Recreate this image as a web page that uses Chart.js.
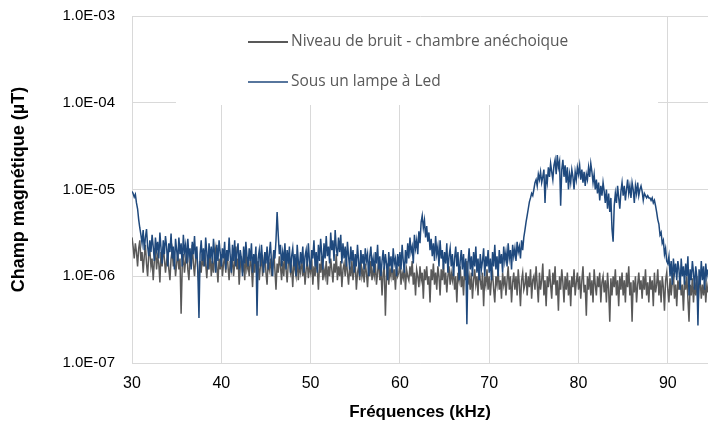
<!DOCTYPE html>
<html>
<head>
<meta charset="utf-8">
<script src="https://cdn.jsdelivr.net/npm/chart.js@4.4.1/dist/chart.umd.min.js"></script>
<style>
  html, body { margin: 0; padding: 0; background: #fff; }
  #wrap { width: 708px; height: 430px; }
</style>
</head>
<body>
<div id="wrap"><canvas id="fieldChart" width="708" height="430"></canvas></div>
<script>
// Frequencies (kHz), one row per kHz
const frequencies = [
  30, 30.125, 30.25, 30.375, 30.5, 30.625, 30.75, 30.875,
  31, 31.125, 31.25, 31.375, 31.5, 31.625, 31.75, 31.875,
  32, 32.125, 32.25, 32.375, 32.5, 32.625, 32.75, 32.875,
  33, 33.125, 33.25, 33.375, 33.5, 33.625, 33.75, 33.875,
  34, 34.125, 34.25, 34.375, 34.5, 34.625, 34.75, 34.875,
  35, 35.125, 35.25, 35.375, 35.5, 35.625, 35.75, 35.875,
  36, 36.125, 36.25, 36.375, 36.5, 36.625, 36.75, 36.875,
  37, 37.125, 37.25, 37.375, 37.5, 37.625, 37.75, 37.875,
  38, 38.125, 38.25, 38.375, 38.5, 38.625, 38.75, 38.875,
  39, 39.125, 39.25, 39.375, 39.5, 39.625, 39.75, 39.875,
  40, 40.125, 40.25, 40.375, 40.5, 40.625, 40.75, 40.875,
  41, 41.125, 41.25, 41.375, 41.5, 41.625, 41.75, 41.875,
  42, 42.125, 42.25, 42.375, 42.5, 42.625, 42.75, 42.875,
  43, 43.125, 43.25, 43.375, 43.5, 43.625, 43.75, 43.875,
  44, 44.125, 44.25, 44.375, 44.5, 44.625, 44.75, 44.875,
  45, 45.125, 45.25, 45.375, 45.5, 45.625, 45.75, 45.875,
  46, 46.125, 46.25, 46.375, 46.5, 46.625, 46.75, 46.875,
  47, 47.125, 47.25, 47.375, 47.5, 47.625, 47.75, 47.875,
  48, 48.125, 48.25, 48.375, 48.5, 48.625, 48.75, 48.875,
  49, 49.125, 49.25, 49.375, 49.5, 49.625, 49.75, 49.875,
  50, 50.125, 50.25, 50.375, 50.5, 50.625, 50.75, 50.875,
  51, 51.125, 51.25, 51.375, 51.5, 51.625, 51.75, 51.875,
  52, 52.125, 52.25, 52.375, 52.5, 52.625, 52.75, 52.875,
  53, 53.125, 53.25, 53.375, 53.5, 53.625, 53.75, 53.875,
  54, 54.125, 54.25, 54.375, 54.5, 54.625, 54.75, 54.875,
  55, 55.125, 55.25, 55.375, 55.5, 55.625, 55.75, 55.875,
  56, 56.125, 56.25, 56.375, 56.5, 56.625, 56.75, 56.875,
  57, 57.125, 57.25, 57.375, 57.5, 57.625, 57.75, 57.875,
  58, 58.125, 58.25, 58.375, 58.5, 58.625, 58.75, 58.875,
  59, 59.125, 59.25, 59.375, 59.5, 59.625, 59.75, 59.875,
  60, 60.125, 60.25, 60.375, 60.5, 60.625, 60.75, 60.875,
  61, 61.125, 61.25, 61.375, 61.5, 61.625, 61.75, 61.875,
  62, 62.125, 62.25, 62.375, 62.5, 62.625, 62.75, 62.875,
  63, 63.125, 63.25, 63.375, 63.5, 63.625, 63.75, 63.875,
  64, 64.125, 64.25, 64.375, 64.5, 64.625, 64.75, 64.875,
  65, 65.125, 65.25, 65.375, 65.5, 65.625, 65.75, 65.875,
  66, 66.125, 66.25, 66.375, 66.5, 66.625, 66.75, 66.875,
  67, 67.125, 67.25, 67.375, 67.5, 67.625, 67.75, 67.875,
  68, 68.125, 68.25, 68.375, 68.5, 68.625, 68.75, 68.875,
  69, 69.125, 69.25, 69.375, 69.5, 69.625, 69.75, 69.875,
  70, 70.125, 70.25, 70.375, 70.5, 70.625, 70.75, 70.875,
  71, 71.125, 71.25, 71.375, 71.5, 71.625, 71.75, 71.875,
  72, 72.125, 72.25, 72.375, 72.5, 72.625, 72.75, 72.875,
  73, 73.125, 73.25, 73.375, 73.5, 73.625, 73.75, 73.875,
  74, 74.125, 74.25, 74.375, 74.5, 74.625, 74.75, 74.875,
  75, 75.125, 75.25, 75.375, 75.5, 75.625, 75.75, 75.875,
  76, 76.125, 76.25, 76.375, 76.5, 76.625, 76.75, 76.875,
  77, 77.125, 77.25, 77.375, 77.5, 77.625, 77.75, 77.875,
  78, 78.125, 78.25, 78.375, 78.5, 78.625, 78.75, 78.875,
  79, 79.125, 79.25, 79.375, 79.5, 79.625, 79.75, 79.875,
  80, 80.125, 80.25, 80.375, 80.5, 80.625, 80.75, 80.875,
  81, 81.125, 81.25, 81.375, 81.5, 81.625, 81.75, 81.875,
  82, 82.125, 82.25, 82.375, 82.5, 82.625, 82.75, 82.875,
  83, 83.125, 83.25, 83.375, 83.5, 83.625, 83.75, 83.875,
  84, 84.125, 84.25, 84.375, 84.5, 84.625, 84.75, 84.875,
  85, 85.125, 85.25, 85.375, 85.5, 85.625, 85.75, 85.875,
  86, 86.125, 86.25, 86.375, 86.5, 86.625, 86.75, 86.875,
  87, 87.125, 87.25, 87.375, 87.5, 87.625, 87.75, 87.875,
  88, 88.125, 88.25, 88.375, 88.5, 88.625, 88.75, 88.875,
  89, 89.125, 89.25, 89.375, 89.5, 89.625, 89.75, 89.875,
  90, 90.125, 90.25, 90.375, 90.5, 90.625, 90.75, 90.875,
  91, 91.125, 91.25, 91.375, 91.5, 91.625, 91.75, 91.875,
  92, 92.125, 92.25, 92.375, 92.5, 92.625, 92.75, 92.875,
  93, 93.125, 93.25, 93.375, 93.5, 93.625, 93.75, 93.875,
  94, 94.125, 94.25, 94.375, 94.5
];

// Niveau de bruit - chambre anéchoique (µT)
const noiseLevel = [
  2.8e-6, 2.2e-6, 1.6e-6, 2.4e-6, 1.9e-6, 1.3e-6, 2.1e-6, 2.6e-6,
  1.5e-6, 1.9e-6, 1.1e-6, 1.7e-6, 2.3e-6, 1.4e-6, 1.0e-6, 1.8e-6,
  2.0e-6, 1.3e-6, 1.6e-6, 0.9e-6, 1.5e-6, 2.1e-6, 1.2e-6, 1.7e-6,
  1.4e-6, 0.85e-6, 1.9e-6, 1.3e-6, 2.2e-6, 1.6e-6, 1.1e-6, 1.5e-6,
  1.8e-6, 1.2e-6, 0.9e-6, 1.6e-6, 2.0e-6, 1.3e-6, 1.7e-6, 1.0e-6,
  1.4e-6, 1.9e-6, 1.2e-6, 1.6e-6, 0.37e-6, 1.3e-6, 1.8e-6, 1.1e-6,
  1.5e-6, 2.1e-6, 1.2e-6, 0.9e-6, 1.7e-6, 1.3e-6, 2.3e-6, 1.4e-6,
  1.0e-6, 1.6e-6, 1.9e-6, 1.2e-6, 0.8e-6, 1.5e-6, 1.1e-6, 1.8e-6,
  1.3e-6, 2.0e-6, 1.4e-6, 0.95e-6, 1.6e-6, 1.2e-6, 1.9e-6, 1.0e-6,
  1.5e-6, 1.1e-6, 1.7e-6, 2.1e-6, 1.3e-6, 0.85e-6, 1.6e-6, 1.2e-6,
  1.8e-6, 1.0e-6, 1.4e-6, 1.7e-6, 1.1e-6, 2.0e-6, 1.3e-6, 0.9e-6,
  1.5e-6, 1.2e-6, 1.8e-6, 1.0e-6, 1.4e-6, 2.2e-6, 1.2e-6, 1.6e-6,
  0.8e-6, 1.3e-6, 1.7e-6, 1.1e-6, 1.5e-6, 0.9e-6, 1.9e-6, 1.2e-6,
  1.4e-6, 1.0e-6, 1.6e-6, 1.3e-6, 0.75e-6, 1.5e-6, 1.1e-6, 1.8e-6,
  1.2e-6, 1.5e-6, 0.9e-6, 1.3e-6, 1.7e-6, 1.0e-6, 1.4e-6, 1.9e-6,
  1.1e-6, 0.8e-6, 1.5e-6, 1.2e-6, 1.6e-6, 1.0e-6, 1.3e-6, 2.0e-6,
  1.2e-6, 0.7e-6, 1.4e-6, 1.1e-6, 1.7e-6, 1.3e-6, 0.9e-6, 1.5e-6,
  1.0e-6, 1.8e-6, 1.2e-6, 0.85e-6, 1.4e-6, 1.6e-6, 1.1e-6, 1.3e-6,
  0.75e-6, 1.5e-6, 1.2e-6, 1.0e-6, 1.6e-6, 0.9e-6, 1.3e-6, 1.1e-6,
  1.7e-6, 1.0e-6, 1.4e-6, 0.8e-6, 1.2e-6, 1.5e-6, 0.95e-6, 1.3e-6,
  1.1e-6, 1.6e-6, 0.8e-6, 1.3e-6, 1.0e-6, 1.5e-6, 1.2e-6, 0.7e-6,
  1.4e-6, 1.1e-6, 1.7e-6, 0.9e-6, 1.2e-6, 1.0e-6, 1.5e-6, 0.8e-6,
  1.3e-6, 1.0e-6, 1.6e-6, 1.2e-6, 0.85e-6, 1.4e-6, 1.1e-6, 1.8e-6,
  0.9e-6, 1.3e-6, 1.0e-6, 1.5e-6, 0.75e-6, 1.2e-6, 1.4e-6, 1.0e-6,
  1.6e-6, 1.1e-6, 0.8e-6, 1.3e-6, 1.0e-6, 1.5e-6, 0.9e-6, 1.2e-6,
  1.4e-6, 0.7e-6, 1.1e-6, 1.3e-6, 0.9e-6, 1.6e-6, 1.0e-6, 1.2e-6,
  0.85e-6, 1.4e-6, 1.1e-6, 0.75e-6, 1.3e-6, 1.0e-6, 1.5e-6, 0.9e-6,
  1.2e-6, 1.0e-6, 1.4e-6, 0.8e-6, 1.1e-6, 1.6e-6, 0.9e-6, 1.2e-6,
  0.6e-6, 1.1e-6, 1.3e-6, 0.35e-6, 1.0e-6, 1.4e-6, 0.8e-6, 1.2e-6,
  1.0e-6, 1.5e-6, 0.9e-6, 1.2e-6, 0.7e-6, 1.3e-6, 1.0e-6, 1.1e-6,
  1.4e-6, 0.8e-6, 1.1e-6, 0.95e-6, 1.3e-6, 0.7e-6, 1.2e-6, 1.0e-6,
  0.9e-6, 1.3e-6, 1.0e-6, 1.5e-6, 0.8e-6, 1.1e-6, 0.6e-6, 1.2e-6,
  1.0e-6, 0.75e-6, 1.3e-6, 0.9e-6, 1.1e-6, 0.55e-6, 1.2e-6, 0.9e-6,
  1.3e-6, 0.8e-6, 1.0e-6, 0.5e-6, 1.2e-6, 0.9e-6, 1.4e-6, 0.8e-6,
  1.1e-6, 0.7e-6, 1.3e-6, 1.0e-6, 0.6e-6, 1.2e-6, 0.9e-6, 1.4e-6,
  0.8e-6, 1.1e-6, 0.65e-6, 1.0e-6, 1.3e-6, 0.8e-6, 1.1e-6, 0.9e-6,
  1.2e-6, 0.7e-6, 1.0e-6, 0.5e-6, 1.1e-6, 0.9e-6, 1.3e-6, 0.75e-6,
  1.0e-6, 0.6e-6, 1.2e-6, 0.9e-6, 1.5e-6, 0.8e-6, 1.0e-6, 0.7e-6,
  1.1e-6, 0.55e-6, 0.9e-6, 1.2e-6, 0.8e-6, 1.0e-6, 0.6e-6, 1.3e-6,
  0.9e-6, 0.7e-6, 1.1e-6, 0.45e-6, 1.0e-6, 0.8e-6, 1.2e-6, 0.7e-6,
  1.0e-6, 0.6e-6, 0.9e-6, 1.1e-6, 0.7e-6, 0.5e-6, 1.0e-6, 0.8e-6,
  1.2e-6, 0.7e-6, 0.9e-6, 0.55e-6, 1.1e-6, 0.8e-6, 1.0e-6, 0.6e-6,
  0.9e-6, 1.3e-6, 0.7e-6, 1.0e-6, 0.5e-6, 0.85e-6, 1.1e-6, 0.7e-6,
  1.0e-6, 0.6e-6, 1.2e-6, 0.8e-6, 0.45e-6, 0.9e-6, 1.1e-6, 0.7e-6,
  0.8e-6, 1.1e-6, 0.6e-6, 1.0e-6, 0.75e-6, 1.2e-6, 0.55e-6, 0.9e-6,
  1.0e-6, 0.7e-6, 1.3e-6, 0.8e-6, 0.5e-6, 1.1e-6, 0.7e-6, 0.9e-6,
  1.4e-6, 0.6e-6, 0.9e-6, 0.45e-6, 1.0e-6, 0.75e-6, 1.2e-6, 0.8e-6,
  0.55e-6, 1.1e-6, 0.8e-6, 1.3e-6, 0.6e-6, 0.9e-6, 0.4e-6, 1.0e-6,
  0.7e-6, 1.2e-6, 0.85e-6, 0.5e-6, 1.0e-6, 0.7e-6, 1.1e-6, 0.6e-6,
  0.9e-6, 0.45e-6, 1.0e-6, 0.75e-6, 1.2e-6, 0.6e-6, 0.85e-6, 1.1e-6,
  0.7e-6, 1.0e-6, 0.55e-6, 0.9e-6, 1.3e-6, 0.65e-6, 0.8e-6, 0.35e-6,
  1.0e-6, 0.7e-6, 1.1e-6, 0.6e-6, 0.9e-6, 0.5e-6, 1.2e-6, 0.8e-6,
  0.6e-6, 1.0e-6, 0.75e-6, 1.1e-6, 0.5e-6, 0.85e-6, 1.0e-6, 0.65e-6,
  0.9e-6, 0.5e-6, 1.1e-6, 0.7e-6, 0.3e-6, 0.95e-6, 0.6e-6, 1.0e-6,
  0.75e-6, 1.2e-6, 0.6e-6, 0.9e-6, 0.45e-6, 1.0e-6, 0.7e-6, 1.1e-6,
  0.6e-6, 0.9e-6, 0.5e-6, 1.1e-6, 0.75e-6, 1.3e-6, 0.6e-6, 0.85e-6,
  0.3e-6, 0.9e-6, 0.65e-6, 1.0e-6, 0.5e-6, 0.8e-6, 1.1e-6, 0.7e-6,
  0.9e-6, 0.55e-6, 1.0e-6, 0.7e-6, 1.2e-6, 0.6e-6, 0.85e-6, 0.5e-6,
  1.0e-6, 0.7e-6, 0.9e-6, 0.45e-6, 1.1e-6, 0.65e-6, 0.8e-6, 1.2e-6,
  0.6e-6, 0.9e-6, 0.5e-6, 1.0e-6, 0.75e-6, 0.4e-6, 0.9e-6, 1.1e-6,
  0.7e-6, 0.5e-6, 0.95e-6, 0.6e-6, 0.85e-6, 1.1e-6, 0.55e-6, 0.8e-6,
  0.45e-6, 0.9e-6, 0.7e-6, 1.0e-6, 0.6e-6, 0.8e-6, 0.4e-6, 0.9e-6,
  0.7e-6, 1.0e-6, 0.55e-6, 0.3e-6, 0.8e-6, 0.6e-6, 0.95e-6, 0.5e-6,
  0.85e-6, 0.6e-6, 1.0e-6, 0.45e-6, 0.75e-6, 0.9e-6, 0.55e-6, 0.8e-6,
  0.6e-6, 0.9e-6, 0.5e-6, 0.8e-6, 0.65e-6
];

// Sous un lampe à Led (µT)
const ledLamp = [
  9.5e-6, 9.0e-6, 8.2e-6, 8.8e-6, 7.0e-6, 6.0e-6, 4.5e-6, 3.6e-6,
  3.0e-6, 2.4e-6, 3.4e-6, 2.0e-6, 2.8e-6, 3.5e-6, 2.2e-6, 1.7e-6,
  2.6e-6, 1.9e-6, 3.0e-6, 2.2e-6, 1.5e-6, 2.8e-6, 2.0e-6, 2.5e-6,
  1.6e-6, 3.2e-6, 2.1e-6, 1.4e-6, 2.6e-6, 1.8e-6, 2.9e-6, 2.2e-6,
  1.3e-6, 2.4e-6, 1.9e-6, 3.1e-6, 1.6e-6, 2.2e-6, 1.2e-6, 2.7e-6,
  2.0e-6, 1.5e-6, 2.8e-6, 1.8e-6, 2.4e-6, 1.3e-6, 3.0e-6, 1.9e-6,
  2.3e-6, 1.4e-6, 2.7e-6, 1.7e-6, 2.1e-6, 1.2e-6, 2.5e-6, 1.8e-6,
  2.9e-6, 1.6e-6, 2.2e-6, 1.1e-6, 0.33e-6, 1.8e-6, 2.6e-6, 1.5e-6,
  2.1e-6, 1.3e-6, 2.8e-6, 1.9e-6, 1.2e-6, 2.4e-6, 1.6e-6, 2.2e-6,
  1.4e-6, 2.7e-6, 1.8e-6, 1.1e-6, 2.3e-6, 1.5e-6, 2.6e-6, 1.9e-6,
  1.3e-6, 2.1e-6, 1.6e-6, 2.5e-6, 1.2e-6, 2.0e-6, 1.5e-6, 2.8e-6,
  1.7e-6, 1.1e-6, 2.3e-6, 1.5e-6, 2.6e-6, 1.3e-6, 1.9e-6, 2.4e-6,
  1.2e-6, 2.0e-6, 1.6e-6, 1.0e-6, 2.2e-6, 1.4e-6, 2.5e-6, 1.7e-6,
  1.3e-6, 2.1e-6, 1.5e-6, 2.4e-6, 1.1e-6, 1.8e-6, 1.4e-6, 2.2e-6,
  0.35e-6, 1.6e-6, 2.0e-6, 1.3e-6, 2.3e-6, 1.5e-6, 1.1e-6, 1.9e-6,
  1.4e-6, 2.2e-6, 1.2e-6, 1.8e-6, 2.5e-6, 1.4e-6, 1.0e-6, 2.0e-6,
  1.6e-6, 2.6e-6, 5.5e-6, 3.0e-6, 1.8e-6, 2.3e-6, 1.3e-6, 1.9e-6,
  1.5e-6, 2.4e-6, 1.2e-6, 2.0e-6, 1.4e-6, 2.2e-6, 1.1e-6, 1.7e-6,
  2.1e-6, 1.3e-6, 1.8e-6, 1.0e-6, 2.3e-6, 1.5e-6, 1.2e-6, 1.9e-6,
  1.4e-6, 2.2e-6, 1.1e-6, 1.7e-6, 2.0e-6, 1.3e-6, 2.4e-6, 1.5e-6,
  1.2e-6, 2.0e-6, 1.6e-6, 2.6e-6, 1.3e-6, 1.9e-6, 1.1e-6, 2.3e-6,
  1.5e-6, 2.7e-6, 1.8e-6, 1.2e-6, 2.4e-6, 1.6e-6, 2.9e-6, 1.7e-6,
  2.2e-6, 1.4e-6, 3.2e-6, 2.0e-6, 2.6e-6, 1.5e-6, 3.4e-6, 2.1e-6,
  1.7e-6, 2.8e-6, 1.9e-6, 3.0e-6, 1.4e-6, 2.4e-6, 1.6e-6, 2.2e-6,
  1.3e-6, 2.5e-6, 1.7e-6, 1.2e-6, 2.2e-6, 1.5e-6, 2.0e-6, 1.1e-6,
  1.8e-6, 1.3e-6, 2.3e-6, 1.5e-6, 1.0e-6, 2.0e-6, 1.4e-6, 1.8e-6,
  1.2e-6, 2.1e-6, 1.5e-6, 1.8e-6, 1.0e-6, 1.7e-6, 2.2e-6, 1.3e-6,
  1.6e-6, 1.1e-6, 1.9e-6, 1.4e-6, 2.3e-6, 1.2e-6, 1.7e-6, 1.0e-6,
  1.5e-6, 2.0e-6, 1.2e-6, 1.8e-6, 1.4e-6, 0.9e-6, 1.9e-6, 1.3e-6,
  1.7e-6, 1.1e-6, 2.1e-6, 1.4e-6, 1.6e-6, 1.0e-6, 1.8e-6, 1.3e-6,
  1.9e-6, 1.2e-6, 2.3e-6, 1.5e-6, 1.1e-6, 2.0e-6, 1.4e-6, 2.4e-6,
  1.6e-6, 2.8e-6, 1.9e-6, 2.2e-6, 1.4e-6, 3.0e-6, 2.1e-6, 2.6e-6,
  1.8e-6, 3.3e-6, 2.4e-6, 4.2e-6, 5.0e-6, 3.6e-6, 4.4e-6, 2.8e-6,
  3.8e-6, 2.5e-6, 3.2e-6, 2.0e-6, 2.7e-6, 1.7e-6, 2.4e-6, 1.5e-6,
  2.9e-6, 1.8e-6, 2.2e-6, 1.3e-6, 2.6e-6, 1.6e-6, 2.0e-6, 1.2e-6,
  1.9e-6, 1.4e-6, 2.4e-6, 1.1e-6, 1.7e-6, 2.1e-6, 1.3e-6, 1.8e-6,
  1.0e-6, 1.6e-6, 2.2e-6, 1.3e-6, 1.9e-6, 0.9e-6, 1.5e-6, 2.0e-6,
  1.2e-6, 1.8e-6, 1.0e-6, 1.6e-6, 0.28e-6, 1.4e-6, 2.1e-6, 1.2e-6,
  1.7e-6, 1.0e-6, 1.9e-6, 1.3e-6, 2.2e-6, 1.1e-6, 1.6e-6, 0.9e-6,
  1.8e-6, 1.2e-6, 1.5e-6, 2.1e-6, 1.0e-6, 1.7e-6, 1.3e-6, 2.0e-6,
  1.1e-6, 1.6e-6, 0.9e-6, 1.9e-6, 1.3e-6, 2.3e-6, 1.2e-6, 1.7e-6,
  1.0e-6, 2.0e-6, 1.4e-6, 1.8e-6, 1.1e-6, 2.2e-6, 1.5e-6, 1.9e-6,
  1.3e-6, 2.4e-6, 1.6e-6, 2.0e-6, 1.2e-6, 2.3e-6, 1.7e-6, 2.1e-6,
  1.5e-6, 2.5e-6, 1.9e-6, 2.2e-6, 1.6e-6, 2.6e-6, 2.0e-6, 2.8e-6,
  3.4e-6, 4.2e-6, 5.0e-6, 6.0e-6, 7.2e-6, 8.0e-6, 9.0e-6, 8.5e-6,
  10e-6, 12e-6, 13e-6, 11e-6, 15e-6, 13e-6, 16e-6, 12e-6,
  14e-6, 17e-6, 7.0e-6, 15e-6, 12e-6, 18e-6, 14e-6, 20e-6,
  16e-6, 13e-6, 19e-6, 22e-6, 15e-6, 25e-6, 18e-6, 21e-6,
  6.5e-6, 17e-6, 22e-6, 14e-6, 19e-6, 12e-6, 18e-6, 10e-6,
  15e-6, 12e-6, 17e-6, 14e-6, 10e-6, 16e-6, 13e-6, 18e-6,
  15e-6, 19e-6, 13e-6, 17e-6, 12e-6, 16e-6, 11e-6, 15e-6,
  13e-6, 18e-6, 14e-6, 20e-6, 16e-6, 12e-6, 15e-6, 10e-6,
  13e-6, 9.0e-6, 12e-6, 7.5e-6, 11e-6, 8.5e-6, 12e-6, 9.5e-6,
  7.0e-6, 10e-6, 6.0e-6, 9.0e-6, 5.5e-6, 8.0e-6, 3.5e-6, 2.5e-6,
  6.5e-6, 9.0e-6, 7.0e-6, 11e-6, 8.0e-6, 6.0e-6, 9.5e-6, 12e-6,
  8.5e-6, 11e-6, 7.5e-6, 10e-6, 13e-6, 9.0e-6, 11e-6, 8.0e-6,
  12e-6, 10e-6, 7.0e-6, 11e-6, 9.0e-6, 12e-6, 8.5e-6, 10e-6,
  11e-6, 9.5e-6, 7.5e-6, 9.0e-6, 8.5e-6, 8.0e-6, 8.5e-6, 8.0e-6,
  8.0e-6, 7.5e-6, 8.0e-6, 7.0e-6, 7.5e-6, 6.5e-6, 5.5e-6, 4.5e-6,
  4.0e-6, 3.0e-6, 3.2e-6, 2.4e-6, 2.6e-6, 1.8e-6, 2.1e-6, 1.5e-6,
  1.4e-6, 1.7e-6, 1.0e-6, 1.5e-6, 0.8e-6, 1.6e-6, 1.1e-6, 1.4e-6,
  0.9e-6, 1.5e-6, 1.2e-6, 0.7e-6, 1.6e-6, 1.0e-6, 1.3e-6, 0.8e-6,
  1.4e-6, 1.0e-6, 1.7e-6, 0.6e-6, 1.2e-6, 0.9e-6, 1.5e-6, 1.1e-6,
  0.7e-6, 1.3e-6, 1.0e-6, 0.27e-6, 1.2e-6, 0.8e-6, 1.5e-6, 0.9e-6,
  1.3e-6, 0.7e-6, 1.4e-6, 1.0e-6, 1.2e-6
];

const xTicks = [30, 40, 50, 60, 70, 80, 90];
const yTicks = [1e-7, 1e-6, 1e-5, 1e-4, 1e-3];

const seriesNames = ['Niveau de bruit - chambre anéchoique', 'Sous un lampe à Led'];
const seriesColors = ['#595959', '#1f497d'];

function sciLabel(v) {
  const e = Math.round(Math.log10(v));
  return '1.0E' + (e < 0 ? '-' : '+') + String(Math.abs(e)).padStart(2, '0');
}

// Legend drawn inside the plot on a white box, like the original
const boxLegend = {
  id: 'boxLegend',
  beforeDatasetsDraw(chart) {
    const ctx = chart.ctx;
    ctx.save();
    ctx.fillStyle = '#ffffff';
    ctx.fillRect(176, 17, 482, 88);
    const rows = [42, 82];
    ctx.font = '15.5px "Open Sans", sans-serif';
    ctx.textBaseline = 'middle';
    rows.forEach((y, i) => {
      ctx.strokeStyle = seriesColors[i];
      ctx.lineWidth = i === 0 ? 2 : 1.3;
      ctx.beginPath();
      ctx.moveTo(248, y);
      ctx.lineTo(288, y);
      ctx.stroke();
      ctx.fillStyle = '#595959';
      ctx.fillText(seriesNames[i], 291, y);
    });
    ctx.restore();
  }
};

new Chart(document.getElementById('fieldChart').getContext('2d'), {
  type: 'line',
  data: {
    labels: frequencies,
    datasets: [{
      label: seriesNames[0],
      data: noiseLevel,
      borderColor: seriesColors[0],
      borderWidth: 1.5,
      pointRadius: 0,
      tension: 0,
      order: 2
    }, {
      label: seriesNames[1],
      data: ledLamp,
      borderColor: seriesColors[1],
      borderWidth: 1.5,
      pointRadius: 0,
      tension: 0,
      order: 1
    }]
  },
  options: {
    responsive: false,
    animation: false,
    layout: { padding: { top: 16, right: 0, left: 0, bottom: 0 } },
    plugins: {
      legend: { display: false },
      tooltip: { enabled: false }
    },
    scales: {
      x: {
        type: 'linear',
        min: 30,
        max: 94.5,
        afterBuildTicks: (scale) => { scale.ticks = xTicks.map(v => ({ value: v })); },
        afterFit: (scale) => {
          scale.height = 67;
          scale.paddingLeft = 0;
          scale.paddingRight = 0;
        },
        grid: { color: '#d9d9d9', drawTicks: false },
        border: { color: '#d9d9d9' },
        ticks: {
          color: '#000000',
          padding: 11,
          maxRotation: 0,
          font: { family: '"Liberation Sans", Arial, sans-serif', size: 16 }
        },
        title: {
          display: true,
          text: 'Fréquences (kHz)',
          color: '#000000',
          padding: { top: 0, bottom: 7 },
          font: { family: '"Liberation Sans", Arial, sans-serif', size: 17, weight: 'bold' }
        }
      },
      y: {
        type: 'logarithmic',
        min: 1e-7,
        max: 1e-3,
        afterBuildTicks: (scale) => { scale.ticks = yTicks.map(v => ({ value: v })); },
        afterFit: (scale) => {
          scale.width = 132;
          scale.paddingTop = 0;
          scale.paddingBottom = 0;
        },
        grid: { color: '#d9d9d9', drawTicks: false },
        border: { color: '#d9d9d9' },
        ticks: {
          color: '#000000',
          padding: 17,
          callback: (v) => sciLabel(v),
          font: { family: '"Liberation Sans", Arial, sans-serif', size: 15 }
        },
        title: {
          display: true,
          text: 'Champ magnétique (µT)',
          color: '#000000',
          padding: { top: 8, bottom: 0 },
          font: { family: '"Liberation Sans", Arial, sans-serif', size: 18, weight: 'bold' }
        }
      }
    }
  },
  plugins: [boxLegend]
});
</script>
</body>
</html>
